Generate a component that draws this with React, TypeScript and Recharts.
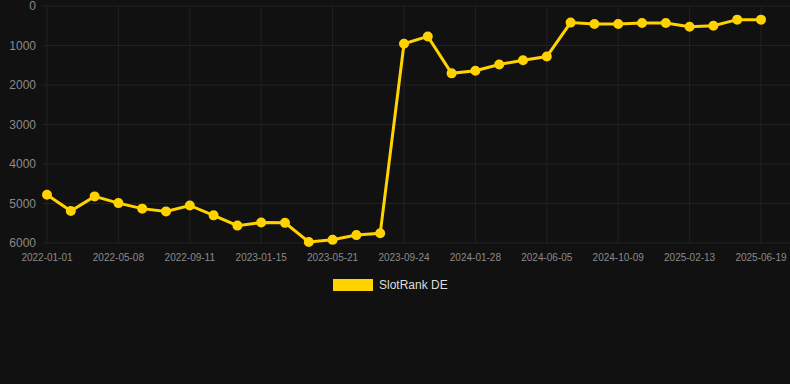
import React from 'react';
import { LineChart, Line, XAxis, YAxis, CartesianGrid, ReferenceLine } from 'recharts';

const dates = [
  '2022-01-01', '2022-02-12', '2022-03-26', '2022-05-08', '2022-06-19', '2022-07-31',
  '2022-09-11', '2022-10-23', '2022-12-04', '2023-01-15', '2023-02-26', '2023-04-09',
  '2023-05-21', '2023-07-02', '2023-08-13', '2023-09-24', '2023-11-05', '2023-12-17',
  '2024-01-28', '2024-03-11', '2024-04-23', '2024-06-05', '2024-07-17', '2024-08-28',
  '2024-10-09', '2024-11-20', '2025-01-01', '2025-02-13', '2025-03-27', '2025-05-08',
  '2025-06-19',
];

const slotRankDE = [
  4780, 5190, 4820, 4990, 5130, 5200, 5050, 5300, 5560, 5480, 5490, 5975,
  5920, 5800, 5755, 955, 770, 1705, 1640, 1480, 1375, 1280, 420, 455,
  455, 430, 430, 525, 500, 345, 345,
];

const xTickDates = [
  '2022-01-01', '2022-05-08', '2022-09-11', '2023-01-15', '2023-05-21', '2023-09-24',
  '2024-01-28', '2024-06-05', '2024-10-09', '2025-02-13', '2025-06-19',
];
const yTicks = [0, 1000, 2000, 3000, 4000, 5000, 6000];
const seriesName = 'SlotRank DE';
const lineColor = '#FFD200';
const gridColor = '#222222';

const data = dates.map((date, i) => ({ date, rank: slotRankDE[i] }));

export default function App() {
  return (
    <div
      style={{
        position: 'absolute',
        left: 0,
        top: 0,
        width: 790,
        height: 384,
        background: '#111111',
        fontFamily: '"Liberation Sans", Arial, sans-serif',
      }}
    >
      <LineChart
        width={790}
        height={384}
        data={data}
        margin={{ top: 6, right: 0, bottom: 111, left: 0 }}
      >
        <CartesianGrid stroke={gridColor} vertical={false} />
        {xTickDates.map((d) => (
          <ReferenceLine key={d} x={d} stroke={gridColor} />
        ))}
        <XAxis
          dataKey="date"
          ticks={xTickDates}
          interval={0}
          tick={{ fontSize: 10, fill: '#8a8a8a' }}
          tickLine={false}
          axisLine={false}
          tickMargin={5}
          height={30}
          padding={{ left: 4, right: 29 }}
        />
        <YAxis
          reversed
          domain={[0, 6000]}
          ticks={yTicks}
          interval={0}
          width={43}
          tick={{ fontSize: 12, fill: '#8a8a8a' }}
          tickLine={false}
          axisLine={false}
          tickSize={5}
          tickMargin={2}
        />
        <Line
          type="linear"
          dataKey="rank"
          name={seriesName}
          stroke={lineColor}
          strokeWidth={3}
          dot={{ r: 4, fill: lineColor, stroke: lineColor, strokeWidth: 2 }}
          isAnimationActive={false}
        />
      </LineChart>
      <div
        style={{
          position: 'absolute',
          left: 333,
          top: 278,
          display: 'flex',
          alignItems: 'center',
          gap: 6,
          fontSize: 12,
          color: '#dddddd',
        }}
      >
        <span style={{ display: 'inline-block', width: 40, height: 12, background: lineColor }} />
        <span>{seriesName}</span>
      </div>
    </div>
  );
}
